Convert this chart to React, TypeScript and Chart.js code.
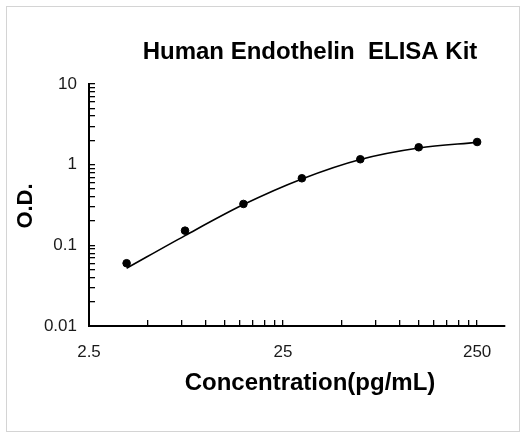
import React, { useEffect, useRef } from "react";
import { Chart, registerables } from "chart.js";

Chart.register(...registerables);

const chartTitle = "Human Endothelin  ELISA Kit";
const xAxisTitle = "Concentration(pg/mL)";
const yAxisTitle = "O.D.";

const concentrations = [3.90625, 7.8125, 15.625, 31.25, 62.5, 125, 250];
const odMeasured = [0.06, 0.152, 0.326, 0.678, 1.167, 1.643, 1.91];
const odFitted = [0.052, 0.132, 0.32, 0.665, 1.16, 1.61, 1.89];

const xMin = 2.5;
const xMax = 348;
const yMin = 0.01;
const yMax = 10;

const xTickValues = [2.5, 5, 7.5, 10, 12.5, 15, 17.5, 20, 22.5, 25, 50, 75, 100, 125, 150, 175, 200, 225, 250];
const xTickLabels = ["2.5", "25", "250"];
const yTickValues = [
  0.01, 0.02, 0.03, 0.04, 0.05, 0.06, 0.07, 0.08, 0.09,
  0.1, 0.2, 0.3, 0.4, 0.5, 0.6, 0.7, 0.8, 0.9,
  1, 2, 3, 4, 5, 6, 7, 8, 9, 10,
];
const yTickLabels = ["0.01", "0.1", "1", "10"];

const FONT = '"Liberation Sans", Arial, sans-serif';

const titlesPlugin = {
  id: "customTitles",
  afterDraw(chart: any) {
    const { ctx, chartArea } = chart;
    ctx.save();
    ctx.fillStyle = "#000";
    ctx.textAlign = "center";
    ctx.textBaseline = "middle";
    ctx.font = `bold 24px ${FONT}`;
    ctx.fillText(chartTitle, 310, 52);
    ctx.fillText(xAxisTitle, 310, 383);
    ctx.translate(26, (chartArea.top + chartArea.bottom) / 2 + 1);
    ctx.rotate(-Math.PI / 2);
    ctx.font = `bold 22px ${FONT}`;
    ctx.fillText(yAxisTitle, 0, 0);
    ctx.restore();
  },
};

export default function App() {
  const canvasRef = useRef<HTMLCanvasElement | null>(null);

  useEffect(() => {
    if (!canvasRef.current) return;
    const chart = new Chart(canvasRef.current, {
      type: "scatter",
      data: {
        datasets: [
          {
            label: "Fit",
            data: concentrations.map((x, i) => ({ x, y: odFitted[i] })),
            showLine: true,
            borderColor: "#000",
            borderWidth: 1.6,
            pointRadius: 0,
            cubicInterpolationMode: "monotone",
            order: 2,
          },
          {
            label: "O.D.",
            data: concentrations.map((x, i) => ({ x, y: odMeasured[i] })),
            showLine: false,
            backgroundColor: "#000",
            borderColor: "#000",
            pointRadius: 3.8,
            order: 1,
          },
        ],
      },
      options: {
        responsive: false,
        animation: false,
        devicePixelRatio: 1,
        layout: { padding: { top: 84, right: 21, bottom: 0, left: 0 } },
        plugins: {
          legend: { display: false },
          title: { display: false },
          tooltip: { enabled: false },
        },
        scales: {
          x: {
            type: "logarithmic",
            min: xMin,
            max: xMax,
            afterBuildTicks: (scale: any) => {
              scale.ticks = xTickValues.map((v) => ({ value: v }));
            },
            afterFit: (scale: any) => {
              scale.height = 108;
            },
            ticks: {
              autoSkip: false,
              maxRotation: 0,
              padding: 22,
              color: "#1a1a1a",
              font: { family: FONT, size: 17 },
              callback: (value: any) => {
                const s = String(value);
                return xTickLabels.includes(s) ? s : "";
              },
            },
            grid: {
              drawOnChartArea: false,
              drawTicks: true,
              tickLength: -6,
              color: "#000",
              lineWidth: 1.3,
            },
            border: { display: true, color: "#000", width: 2 },
          },
          y: {
            type: "logarithmic",
            min: yMin,
            max: yMax,
            afterBuildTicks: (scale: any) => {
              scale.ticks = yTickValues.map((v) => ({ value: v }));
            },
            afterFit: (scale: any) => {
              scale.width = 89;
            },
            ticks: {
              autoSkip: false,
              padding: 18,
              color: "#1a1a1a",
              font: { family: FONT, size: 17 },
              callback: (value: any) => {
                const s = String(value);
                return yTickLabels.includes(s) ? s : "";
              },
            },
            grid: {
              drawOnChartArea: false,
              drawTicks: true,
              tickLength: -6,
              color: "#000",
              lineWidth: 1.3,
            },
            border: { display: true, color: "#000", width: 2 },
          },
        },
      },
      plugins: [titlesPlugin],
    } as any);
    return () => chart.destroy();
  }, []);

  return (
    <div
      style={{
        position: "absolute",
        left: 0,
        top: 0,
        width: 526,
        height: 434,
        background: "#fff",
      }}
    >
      <canvas
        ref={canvasRef}
        width={526}
        height={434}
        style={{ position: "absolute", left: 0, top: 0, width: 526, height: 434 }}
      />
      <div
        style={{
          position: "absolute",
          left: 6,
          top: 6,
          width: 514,
          height: 426,
          border: "1px solid #d4d4d4",
          boxSizing: "border-box",
          pointerEvents: "none",
        }}
      />
    </div>
  );
}
